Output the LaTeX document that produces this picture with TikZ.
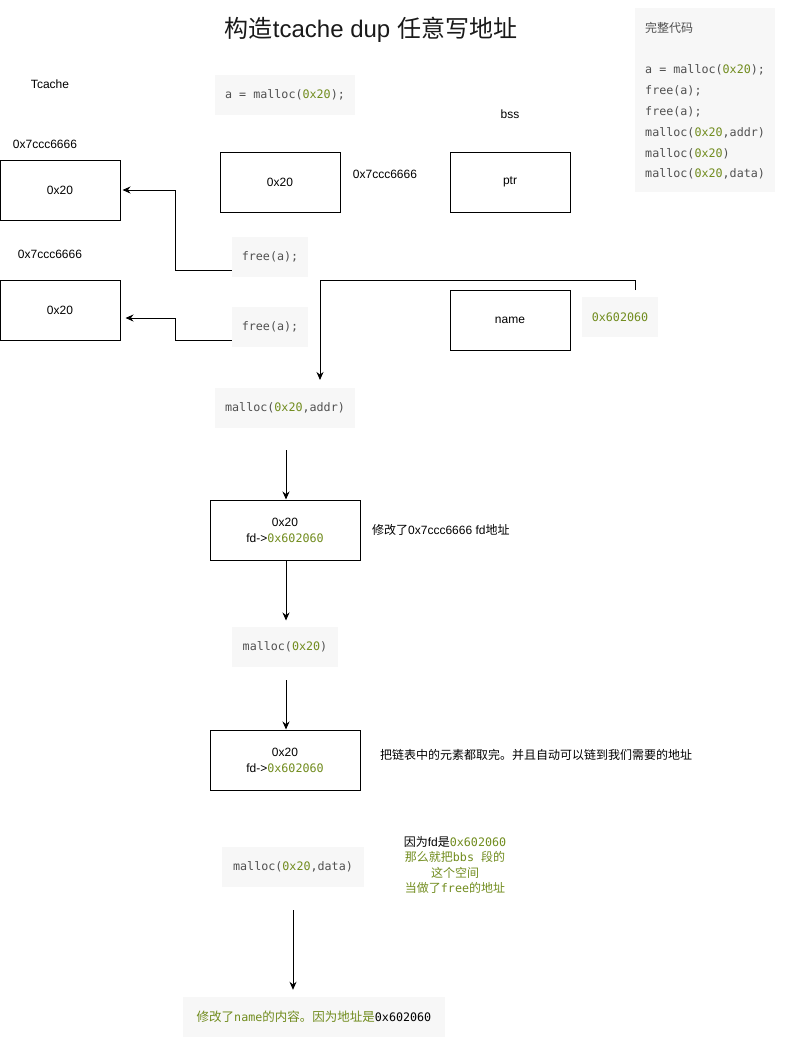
\documentclass[tikz,border=0pt]{standalone}
\usepackage{fontspec}
\setmainfont{Liberation Sans}
\setmonofont{DejaVu Sans Mono}
\newfontfamily\cjk{Noto Sans CJK SC}
\usetikzlibrary{arrows.meta,calc}
\definecolor{codebg}{HTML}{F7F7F7}
\definecolor{codegray}{HTML}{505050}
\definecolor{num}{HTML}{718C1E}
\newcommand\nm[1]{\textcolor{num}{#1}}
\tikzset{
  lbl/.style={inner sep=0, font=\fontsize{12}{15}\selectfont},
  membox/.style={draw, line width=1pt, minimum width=120, minimum height=60, inner sep=0, font=\fontsize{12}{16}\selectfont, align=center},
  codebox/.style={fill=codebg, inner sep=0, minimum height=40, text=codegray, font=\ttfamily\fontsize{11.7}{15}\selectfont},
  arr/.style={line width=1pt, -{Stealth[length=8pt,width=7pt]}},
}
\begin{document}
\begin{tikzpicture}[x=1pt,y=1pt]
\useasboundingbox (0,0) rectangle (791,-1050);
% title
\node[inner sep=0, font=\fontsize{24}{28}\selectfont, text=black!90] (title) at (371,-30) {{\cjk 构造}tcache dup {\cjk 任意写地址}};
% code panel
\node[fill=codebg, anchor=north west, minimum width=140, minimum height=184, inner sep=0] (panel) at (635,-8) {};
\node[anchor=north west, align=left, inner sep=0, text=codegray, font=\ttfamily\fontsize{11.7}{20.8}\selectfont] (code) at (645,-22) {{\cjk\fontsize{12}{20.8}\selectfont 完整代码}\\[20.8pt]
a = malloc(\nm{0x20});\\
free(a);\\
free(a);\\
malloc(\nm{0x20},addr)\\
malloc(\nm{0x20})\\
malloc(\nm{0x20},data)};
% labels
\node[lbl] (tcache) at (50,-84) {Tcache};
\node[lbl] (addrA) at (45,-144) {0x7ccc6666};
\node[lbl] (addrB) at (385,-174) {0x7ccc6666};
\node[lbl] (addrC) at (50,-254) {0x7ccc6666};
\node[lbl] (bss) at (510,-114) {bss};
% code boxes
\node[codebox, minimum width=140] (amal) at (285,-95) {a = malloc(\nm{0x20});};
\node[codebox, minimum width=76] (free1) at (270,-257) {free(a);};
\node[codebox, minimum width=76] (free2) at (270,-327) {free(a);};
\node[codebox, minimum width=76] (hex) at (620,-317) {\nm{0x602060}};
\node[codebox, minimum width=140] (maddr) at (285,-408) {malloc(\nm{0x20},addr)};
\node[codebox, minimum width=106] (m2) at (285,-647) {malloc(\nm{0x20})};
\node[codebox, minimum width=142] (mdata) at (293,-867) {malloc(\nm{0x20},data)};
% memory boxes
\node[membox] (box1) at (60,-190) {0x20};
\node[membox] (box2) at (60,-310) {0x20};
\node[membox] (chunk) at (280,-182) {0x20};
\node[membox] (ptr) at (510,-182) {ptr};
\node[membox] (name) at (510,-320) {name};
\node[membox, minimum width=150] (box3) at (285,-530) {0x20\\fd->{\ttfamily\fontsize{11.7}{16}\selectfont\nm{0x602060}}};
\node[membox, minimum width=150] (box4) at (285,-760) {0x20\\fd->{\ttfamily\fontsize{11.7}{16}\selectfont\nm{0x602060}}};
% notes
\node[lbl, anchor=west] (note1) at (372,-530) {{\cjk 修改了}0x7ccc6666 fd{\cjk 地址}};
\node[lbl, anchor=west] (note2) at (380,-755) {\cjk 把链表中的元素都取完。并且自动可以链到我们需要的地址};
\node[lbl, align=center, font=\fontsize{12}{15.3}\selectfont] (note3) at (455,-865) {{\cjk 因为}fd{\cjk 是}{\ttfamily\fontsize{11.7}{15.3}\selectfont\nm{0x602060}}\\
\textcolor{num}{{\cjk 那么就把}{\ttfamily\fontsize{11.7}{15.3}\selectfont bbs }{\cjk 段的}}\\
\textcolor{num}{\cjk 这个空间}\\
\textcolor{num}{{\cjk 当做了}{\ttfamily\fontsize{11.7}{15.3}\selectfont free}{\cjk 的地址}}};
\node[fill=codebg, inner sep=0, minimum width=262, minimum height=40, font=\fontsize{12.5}{15}\selectfont] (final) at (314,-1017) {\textcolor{num}{{\cjk 修改了}{\ttfamily\fontsize{11.7}{15}\selectfont name}{\cjk 的内容。因为地址是}}{\ttfamily\fontsize{11.7}{15}\selectfont 0x602060}};
% connectors
\draw[arr, shorten >=2pt] ([yshift=-13]free1.west) -- ++(-56,0) |- (box1.east);
\draw[arr, shorten >=5pt] ([yshift=-13]free2.west) -- ++(-56,0) |- ([yshift=-8]box2.east);
\coordinate (s3) at (635,-290);
\coordinate (t3) at (320,-380);
\draw[arr] (s3) -- ++(0,10) -| (t3);
\coordinate (s4) at (286,-450);
\draw[arr] (s4) -- (s4 |- box3.north);
\draw[arr] ([xshift=1]box3.south) -- ++(0,-60);
\coordinate (s6) at (286,-680);
\draw[arr] (s6) -- (s6 |- box4.north);
\coordinate (s7) at (293,-910);
\draw[arr, shorten >=7pt] (s7) -- (s7 |- final.north);
\end{tikzpicture}
\end{document}
